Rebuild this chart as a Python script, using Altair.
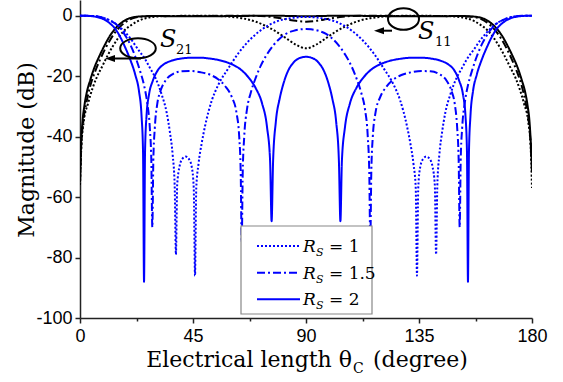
import altair as alt
import pandas as pd

# ---------------- data ----------------
# S11, Rs = 2 (blue solid)
s11_r2_x = [0, 3, 6, 9, 12, 14, 16, 18, 20, 22, 23.5, 24.5, 25.1, 25.5, 25.9, 26.5, 27.5, 29, 31, 33, 36, 40, 44, 48, 52, 56, 60, 64, 67, 70, 72.5, 74.5, 75.7, 76.3, 76.9, 78, 79.5, 81, 83, 85, 87.5, 90,
            92.5, 95, 97, 99, 100.5, 102, 103.1, 103.7, 104.3, 105.5, 107.5, 110, 113, 116, 120, 124, 128, 132, 136, 140, 144, 147, 149, 151, 152.5, 153.5, 154.1, 154.5, 154.9, 155.5, 156.5, 158, 160, 162, 164, 166, 168, 171, 174, 177, 180]
s11_r2_y = [0, -0.05, -0.3, -1.0, -2.6, -4.3, -7, -10.5, -14.5, -19.5, -25, -33, -45, -88, -45, -33, -26, -21.5, -18, -16.3, -15, -14.2, -13.9, -13.9, -14.2, -14.8, -15.9, -17.8, -20.3, -24, -29, -37, -48, -68, -48, -35, -27.5, -22.5, -18, -15.5, -14, -13.6,
            -14, -15.5, -18, -22.5, -27.5, -35, -48, -68, -48, -37, -29, -24, -20.3, -17.8, -15.9, -14.8, -14.2, -13.9, -13.9, -14.2, -15, -16.3, -18, -21.5, -26, -33, -45, -88, -45, -33, -25, -19.5, -14.5, -10.5, -7, -4.3, -2.6, -1.0, -0.3, -0.05, 0]

# S11, Rs = 1.5 (blue dash-dot)
s11_r15_x = [0, 4, 8, 11, 14, 16, 18, 20, 22, 24, 25.5, 26.8, 27.8, 28.4, 28.8, 29.2, 29.8, 30.8, 32, 34, 37, 40.5, 44, 48, 52, 55, 58, 60.5, 62.3, 63.4, 64, 64.4, 64.8, 65.4, 66.5, 68, 70, 72, 74.3, 77, 79.6, 82, 85, 88, 90,
             92, 95, 98, 100.4, 103, 105.7, 108, 110, 112, 113.5, 114.6, 115.2, 115.6, 116, 116.6, 117.7, 119.5, 122, 125, 128, 132, 136, 139.5, 143, 146, 148, 149.2, 150.2, 150.8, 151.2, 151.6, 152.2, 153.2, 154.5, 156, 158, 160, 162, 164, 166, 169, 172, 176, 180]
s11_r15_y = [0, -0.05, -0.4, -1.2, -2.6, -4.2, -6.5, -9.5, -13.5, -18.5, -23, -29, -37, -48, -70, -48, -37, -29, -25, -21.5, -19.3, -18.4, -18.3, -18.7, -19.6, -21, -23.5, -27, -32, -40, -52, -75, -52, -40, -31, -25.5, -20.5, -16.5, -13, -9.8, -7.5, -6, -5, -4.5, -4.4,
             -4.5, -5, -6, -7.5, -9.8, -13, -16.5, -20.5, -25.5, -31, -40, -52, -75, -52, -40, -32, -27, -23.5, -21, -19.6, -18.7, -18.3, -18.4, -19.3, -21.5, -25, -29, -37, -48, -70, -48, -37, -29, -23, -18.5, -13.5, -9.5, -6.5, -4.2, -2.6, -1.2, -0.4, -0.05, 0]

# S11, Rs = 1 (blue dotted)
s11_r1_x = [0, 5, 8, 10, 13, 15.5, 18, 20.5, 23, 26, 28, 30, 32.5, 34.5, 35.8, 36.9, 37.7, 38.2, 38.7, 39.6, 40.8, 42.1, 43.3, 44.5, 45.3, 45.8, 46.3, 47.2, 48.5, 49.8, 52.5, 55, 59, 63, 67, 72, 78, 84, 90,
            96, 102, 108, 113, 117, 121, 125, 127.5, 130.2, 131.5, 132.8, 133.7, 134.2, 134.7, 135.5, 136.7, 137.9, 139.2, 140.4, 141.3, 141.8, 142.3, 143.1, 144.2, 145.5, 147.5, 150, 152, 154, 157, 159.5, 162, 164.5, 167, 170, 172, 175, 180]
s11_r1_y = [0, -0.1, -0.4, -0.9, -2, -3.5, -5.5, -8, -11, -14.5, -17.5, -20.5, -26, -32, -38.5, -46, -56, -79, -56, -50, -47.3, -46.6, -47.3, -50, -57, -86, -57, -49, -42, -36.5, -28, -23, -17.5, -12.5, -8.5, -4.8, -2, -0.8, -0.4,
            -0.8, -2, -4.8, -8.5, -12.5, -17.5, -23, -28, -36.5, -42, -49, -57, -86, -57, -50, -47.3, -46.6, -47.3, -50, -56, -79, -56, -46, -38.5, -32, -26, -20.5, -17.5, -14.5, -11, -8, -5.5, -3.5, -2, -0.9, -0.4, -0.1, 0]

# S21, Rs = 2 (black solid)
s21_r2_x = [0, 0.4, 1.0, 1.8, 2.8, 4, 5.8, 7.8, 9.8, 11.8, 13.8, 15.8, 17.8, 19.8, 22, 25, 28, 35, 45, 55, 65, 76, 83, 90,
            97, 104, 115, 125, 135, 145, 152, 155, 158, 160.2, 162.2, 164.2, 166.2, 168.2, 170.2, 172.2, 174.2, 176, 177.2, 178.2, 179, 179.6, 180]
s21_r2_y = [-55, -43, -35, -29.5, -25, -21.5, -17, -13.2, -9.8, -6.8, -4.5, -2.8, -1.6, -0.8, -0.4, -0.2, -0.1, -0.15, -0.18, -0.15, -0.07, 0, -0.07, -0.19,
            -0.07, 0, -0.07, -0.15, -0.18, -0.15, -0.1, -0.2, -0.4, -0.8, -1.6, -2.8, -4.5, -6.8, -9.8, -13.2, -17, -21.5, -25, -29.5, -35, -43, -50]

# S21, Rs = 1.5 (black dash-dot)
s21_r15_x = [0, 0.5, 1.3, 2.5, 4, 6, 8, 10, 12, 14, 16, 18, 20, 22, 25, 30, 40, 55, 65, 72, 77, 80, 83, 86, 90,
             94, 97, 100, 103, 108, 115, 125, 140, 150, 155, 158, 160, 162, 164, 166, 168, 170, 172, 174, 176, 177.5, 178.7, 179.5, 180]
s21_r15_y = [-55, -43, -35, -29, -23.5, -18.5, -14.5, -11, -8, -5.5, -3.6, -2.2, -1.2, -0.6, -0.25, -0.1, -0.07, -0.05, -0.01, -0.1, -0.5, -0.85, -1.3, -1.7, -1.96,
             -1.7, -1.3, -0.85, -0.5, -0.1, -0.01, -0.05, -0.07, -0.1, -0.25, -0.6, -1.2, -2.2, -3.6, -5.5, -8, -11, -14.5, -18.5, -23.5, -29, -35, -43, -52]

# S21, Rs = 1 (black dotted)
s21_r1_x = [0, 0.5, 1.5, 3.2, 5, 6.5, 9, 11.1, 13, 15.1, 17.5, 20.4, 23, 25.8, 29, 34, 40, 47, 55, 60, 65, 70, 74, 78, 82, 86, 90,
            94, 98, 102, 106, 110, 115, 120, 125, 133, 140, 146, 151, 154.2, 157, 159.6, 162.5, 164.9, 167, 168.9, 171, 173.5, 175, 176.8, 178.5, 179.5, 180]
s21_r1_y = [-56, -44, -35, -29, -24, -20.7, -16.5, -13, -10.2, -7.5, -5, -3.1, -1.8, -0.9, -0.4, -0.15, -0.05, 0, -0.1, -0.35, -0.9, -2, -3.4, -5.2, -7.4, -9.6, -10.8,
            -9.6, -7.4, -5.2, -3.4, -2, -0.9, -0.35, -0.1, 0, -0.05, -0.15, -0.4, -0.9, -1.8, -3.1, -5, -7.5, -10.2, -13, -16.5, -20.7, -24, -29, -35, -44, -57]

x_major = [0, 45, 90, 135, 180]
x_ticks = [0, 22.5, 45, 67.5, 90, 112.5, 135, 157.5, 180]
y_ticks = [-100, -90, -80, -70, -60, -50, -40, -30, -20, -10, 0]
rs_values = ["1", "1.5", "2"]

# ---------------- build table ----------------
rows = []
for param, rs, xs, ys in [
    ("S21", "1", s21_r1_x, s21_r1_y),
    ("S21", "1.5", s21_r15_x, s21_r15_y),
    ("S21", "2", s21_r2_x, s21_r2_y),
    ("S11", "1", s11_r1_x, s11_r1_y),
    ("S11", "1.5", s11_r15_x, s11_r15_y),
    ("S11", "2", s11_r2_x, s11_r2_y),
]:
    assert len(xs) == len(ys), (param, rs, len(xs), len(ys))
    for i, (a, b) in enumerate(zip(xs, ys)):
        rows.append({"theta": a, "mag": b, "param": param, "rs": rs, "curve": param + "_" + rs, "i": i})
df = pd.DataFrame(rows)

SERIF = "DejaVu Serif"
SANS = "Liberation Sans"
BLUE = "#0000ff"
dash_scale = alt.Scale(domain=rs_values, range=[[2, 2], [8, 3, 2, 3], [1, 0]])

x_enc = alt.X("theta:Q", scale=alt.Scale(domain=[0, 180], nice=False, zero=False),
              axis=alt.Axis(values=x_ticks, title=None, grid=False,
                            labelExpr="datum.value % 45 == 0 ? '' + datum.value : ''",
                            tickSize={"condition": {"test": "datum.value % 45 != 0", "value": 3}, "value": 5},
                            labelFont=SANS, labelFontSize=18, labelColor="black", labelPadding=4,
                            domainColor="#222", tickColor="#222", domainWidth=1.5, tickWidth=1.5,
                            labelFlush=False))
y_enc = alt.Y("mag:Q", scale=alt.Scale(domain=[-100, 5.2], nice=False, zero=False),
              axis=alt.Axis(values=y_ticks, title=None, grid=False,
                            labelExpr="datum.value % 20 == 0 ? '' + datum.value : ''",
                            tickSize={"condition": {"test": "datum.value % 20 != 0", "value": 3}, "value": 5},
                            labelFont=SANS, labelFontSize=18, labelColor="black", labelPadding=3,
                            domainColor="#222", tickColor="#222", domainWidth=1.5, tickWidth=1.5,
                            labelFlush=False))

black_lines = alt.Chart(df).transform_filter("datum.param == 'S21'").mark_line(
    strokeWidth=2, interpolate="monotone", clip=True, color="black"
).encode(x=x_enc, y=y_enc,
         strokeDash=alt.StrokeDash("rs:N", scale=dash_scale, legend=None),
         detail="curve:N", order="i:Q")

blue_lines = alt.Chart(df).transform_filter("datum.param == 'S11'").mark_line(
    strokeWidth=2, interpolate="monotone", clip=True, color=BLUE
).encode(x="theta:Q", y="mag:Q",
         strokeDash=alt.StrokeDash("rs:N", scale=dash_scale, legend=None),
         detail="curve:N", order="i:Q")

one = pd.DataFrame({"k": [0]})
layers = [black_lines, blue_lines]

def rule(x1, x2, y1, y2, color="black", width=2, dash=None):
    kw = dict(color=color, strokeWidth=width)
    if dash is not None:
        kw["strokeDash"] = dash
    return alt.Chart(one).mark_rule(**kw).encode(
        x=alt.value(x1), x2=alt.value(x2), y=alt.value(y1), y2=alt.value(y2))

def text(t, x, y, size, font=SERIF, style="normal", align="left", baseline="alphabetic", angle=0):
    kw = dict(font=font, fontSize=size, fontStyle=style, align=align, baseline=baseline, color="black")
    if angle:
        kw["angle"] = angle
    return alt.Chart(one).mark_text(**kw).encode(
        x=alt.value(x), y=alt.value(y), text=alt.value(t))

# legend box
layers.append(alt.Chart(one).mark_rect(fill="white", stroke="#888", strokeWidth=1.2).encode(
    x=alt.value(161), x2=alt.value(292), y=alt.value(226), y2=alt.value(314)))
leg_rows = [(246, [2, 2], "1"), (272.7, [8, 3, 2, 3], "1.5"), (299.3, None, "2")]
for yy, dash, lab in leg_rows:
    layers.append(rule(177, 220, yy, yy, color=BLUE, width=2, dash=dash))
    layers.append(text("R", 223, yy + 6, 17, style="italic"))
    layers.append(text("S", 236, yy + 10, 11, style="italic"))
    layers.append(text("= " + lab, 249, yy + 6, 17))

# annotations S21 / S11
ellipse = "M -1 0 A 1 0.56 0 1 1 1 0 A 1 0.56 0 1 1 -1 0 Z"
ellipse2 = "M -1 0 A 1 0.7 0 1 1 1 0 A 1 0.7 0 1 1 -1 0 Z"
arrow = "M -1 0 L 1 -0.7 L 1 0.7 Z"
layers.append(alt.Chart(one).mark_point(shape=ellipse, size=1267, filled=False, stroke="black", strokeWidth=2, opacity=1).encode(
    x=alt.value(58), y=alt.value(48.3)))
layers.append(rule(31, 61, 58.5, 58.5))
layers.append(alt.Chart(one).mark_point(shape=arrow, size=100, filled=True, fill="black", strokeWidth=0, opacity=1).encode(
    x=alt.value(30), y=alt.value(58.5)))
layers.append(text("S", 80, 46.5, 24, style="italic"))
layers.append(text("21", 96, 54, 13))

layers.append(alt.Chart(one).mark_point(shape=ellipse2, size=961, filled=False, stroke="black", strokeWidth=2, opacity=1).encode(
    x=alt.value(323.5), y=alt.value(19)))
layers.append(rule(304, 312, 30.7, 30.7))
layers.append(alt.Chart(one).mark_point(shape=arrow, size=100, filled=True, fill="black", strokeWidth=0, opacity=1).encode(
    x=alt.value(299), y=alt.value(30.7)))
layers.append(text("S", 338, 39.3, 24, style="italic"))
layers.append(text("11", 355, 45.7, 13))

# axis titles
layers.append(text("Electrical length θ", 272, 367, 22, align="right"))
layers.append(text("C", 273, 373, 14))
layers.append(text("(degree)", 293, 367, 22))
layers.append(text("Magnitude (dB)", -53, 150, 22, align="center", baseline="middle", angle=270))

chart = alt.layer(*layers).properties(
    width=452, height=318,
    padding={"left": 80, "top": 0, "right": 31, "bottom": 64},
    autosize=alt.AutoSizeParams(type="none"),
    background="white",
).configure_view(strokeWidth=0)

chart.save("out.html", embed_options={"renderer": "svg", "actions": False})
